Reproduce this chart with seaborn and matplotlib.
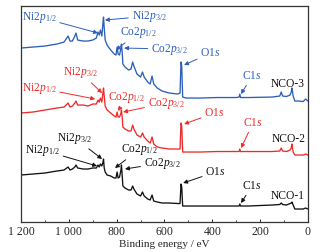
import numpy as np
import pandas as pd
import seaborn as sns
import matplotlib
matplotlib.use("Agg")
import matplotlib.pyplot as plt

# binding energy knots (eV) shared by the three survey spectra
energy = [1200, 1150, 1100, 1050, 1020, 1003, 995, 985, 975, 970, 963, 940, 920,
          900, 885, 878, 873, 868, 862, 857, 855, 852, 848, 840, 825, 810, 803,
          798, 794, 788, 782, 780, 777, 774, 765, 750, 740, 733, 728, 715, 700,
          692, 685, 670, 660, 652, 645, 630, 610, 580, 545, 535, 531, 528, 524,
          510, 450, 380, 300, 288, 285, 282, 250, 150, 118, 112, 106, 90, 75,
          70, 67, 62, 55, 40, 20, 10, 0]

# intensities (a.u., offset stacked)
nco3 = [174, 175, 176, 178, 180, 186, 181, 181, 186, 189, 182, 181, 181,
        182, 184, 190, 187, 192, 186, 200, 205, 194, 182, 177, 172, 168, 167,
        175, 168, 167, 174, 178, 170, 158, 155, 152, 153, 160, 156, 148, 145,
        150, 145, 140, 138, 146, 138, 134, 131, 129, 128, 129, 160, 156, 125,
        124, 124, 124.5, 124.5, 125, 128, 124.5, 124.5, 125, 126, 130, 126, 125.5, 127,
        130, 134, 126, 121, 121, 120.5, 123, 121]
nco2 = [109, 110, 112, 114, 115, 119, 115, 116, 119, 121, 117, 117, 116,
        118, 118, 122, 120, 124, 120, 130, 134, 126, 116, 112, 109, 106, 105,
        110, 105, 105, 109, 112, 105, 95, 93, 91, 91, 97, 93, 87, 85,
        89, 85, 81, 79, 85, 78, 75, 74, 73, 73, 73, 99, 96, 70,
        70, 70, 70.5, 70.5, 70.5, 73, 70.5, 70.5, 70.5, 71, 74, 71, 70.5, 72,
        74, 78, 70, 67, 67, 67, 68, 67]
nco1 = [47, 48, 49, 51, 52, 55, 52, 53, 55, 57, 54, 53, 53,
        54, 54, 57, 55, 58, 56, 60, 63, 54, 50, 47, 46, 44, 44,
        50, 44, 45, 52, 57, 47, 36, 34, 32, 32, 36, 33, 28, 26,
        30, 26, 23, 22, 27, 21, 20, 19, 19, 18.5, 18.5, 38, 35, 16,
        16, 16, 16, 16, 16, 18, 16, 16, 17, 17.5, 19, 17.5, 17, 18.5,
        19, 20, 17, 13, 13, 13, 14, 13]

series = ["NCO-1", "NCO-2", "NCO-3"]
colors = {"NCO-1": "#111111", "NCO-2": "#f02a2a", "NCO-3": "#2d5fb9"}

xticks = [1200, 1000, 800, 600, 400, 200, 0]
xticklabels = ["1 200", "1 000", "800", "600", "400", "200", "0"]

df = pd.DataFrame({
    "energy": energy * 3,
    "intensity": nco1 + nco2 + nco3,
    "sample": [s for s in series for _ in energy],
})

sns.set_style("ticks")
plt.rcParams["font.family"] = ["Liberation Serif", "DejaVu Serif"]
plt.rcParams["mathtext.fontset"] = "custom"
plt.rcParams["mathtext.rm"] = "Liberation Serif"
plt.rcParams["mathtext.it"] = "Liberation Serif:italic"

fig = plt.figure(figsize=(3.22, 2.52), dpi=100)
ax = fig.add_axes([0.0652, 0.119, 0.8913, 0.857])

for s in series:
    sub = df[df["sample"] == s]
    sns.lineplot(data=sub, x="energy", y="intensity", ax=ax, color=colors[s],
                 lw=0.95, estimator=None, sort=False, legend=False)

ax.set_xlim(1200, 0)
ax.set_ylim(0, 216)
ax.set_xticks(xticks)
ax.set_xticklabels(xticklabels, fontsize=8.5)
ax.set_xticks([1100, 900, 700, 500, 300, 100], minor=True)
ax.set_yticks([])
ax.tick_params(axis="x", which="major", direction="in", length=2.5, width=0.7, pad=3)
ax.tick_params(axis="x", which="minor", direction="in", length=1.5, width=0.6)
ax.set_xlabel("Binding energy / eV", fontsize=8, labelpad=1.5)
ax.set_ylabel("")
for sp in ax.spines.values():
    sp.set_linewidth(0.9)
    sp.set_color("#333333")

p12 = r"Ni2$p_{\mathrm{1/2}}$"
p32 = r"Ni2$p_{\mathrm{3/2}}$"
c12 = r"Co2$p_{\mathrm{1/2}}$"
c32 = r"Co2$p_{\mathrm{3/2}}$"
o1s = r"O1$s$"
c1s = r"C1$s$"

# (label, text position, arrow target) per spectrum
notes = {
    "NCO-3": [(p12, (1124, 205), (878, 189)), (p32, (665, 206), (849, 202)),
              (c12, (708, 190), (803, 172)), (c32, (580, 173), (769, 174)),
              (o1s, (408, 169), (518, 157)), (c1s, (234, 146), (280, 128))],
    "NCO-2": [(p12, (1124, 134), (890, 123)), (p32, (953, 150), (861, 129)),
              (c12, (758, 125), (794, 111)), (c32, (594, 119), (773, 110)),
              (o1s, (391, 109), (518, 98)), (c1s, (230, 99), (280, 74))],
    "NCO-1": [(p12, (1110, 72), (882, 56)), (p32, (975, 84), (861, 63)),
              (c12, (704, 73), (807, 54)), (c32, (610, 59), (765, 53)),
              (o1s, (387, 50), (522, 39)), (c1s, (234, 36), (280, 19))],
}
name_y = {"NCO-3": 138, "NCO-2": 83, "NCO-1": 26}

for s in series:
    c = colors[s]
    for lab, txy, axy in notes[s]:
        ax.annotate(lab, xy=axy, xytext=txy, ha="center", va="center",
                    fontsize=8.3, color=c,
                    arrowprops=dict(arrowstyle="-|>", color=c, lw=0.7,
                                    mutation_scale=6, shrinkA=0, shrinkB=0))
    ax.text(12, name_y[s], s, ha="right", va="center", fontsize=8.3, color="#111111")

fig.savefig("out.png", dpi=100)
